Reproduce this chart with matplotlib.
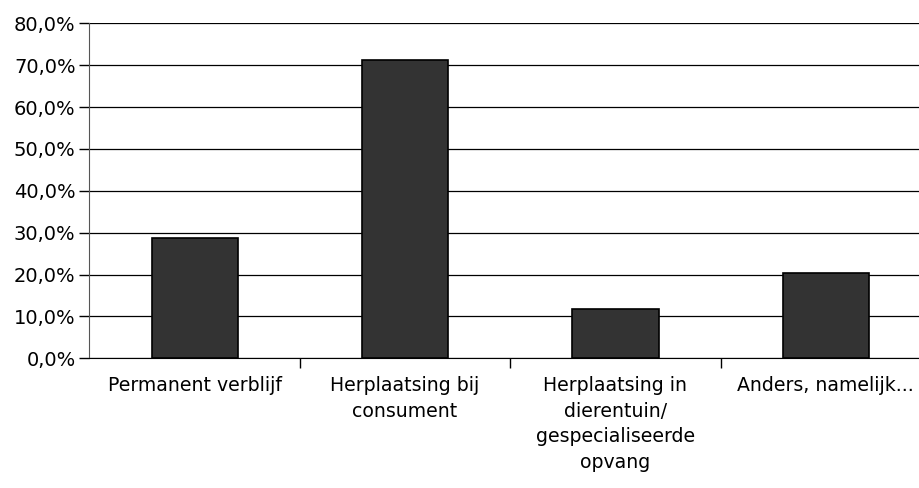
import numpy as np
import matplotlib
matplotlib.use('Agg')
import matplotlib.pyplot as plt
from matplotlib.ticker import FuncFormatter, FixedLocator

# data
categories = ['Permanent verblijf',
              'Herplaatsing bij\nconsument',
              'Herplaatsing in\ndierentuin/\ngespecialiseerde\nopvang',
              'Anders, namelijk...']
values = [28.8, 71.2, 11.8, 20.3]
yticks = [0, 10, 20, 30, 40, 50, 60, 70, 80]

plt.rcParams['font.family'] = 'DejaVu Sans'

fig = plt.figure(figsize=(9.2, 4.88), dpi=100)
ax = fig.add_axes([89.5/920, 129.7/488, (931-89.5)/920, 335/488])

x = np.arange(len(categories))
ax.set_axisbelow(True)
ax.yaxis.grid(True, color='black', lw=0.9)
ax.bar(x, values, width=0.41, color='#333333', edgecolor='black', lw=1.2, zorder=3)

ax.set_xlim(-0.5, len(categories) - 0.5)
ax.set_ylim(0, 80)
ax.set_yticks(yticks)
ax.yaxis.set_major_formatter(FuncFormatter(lambda v, p: ('%.1f%%' % v).replace('.', ',')))

ax.set_xticks(x)
ax.set_xticklabels(categories, fontsize=13.6, linespacing=1.46)
ax.tick_params(axis='x', which='major', length=0, pad=12.5)
ax.xaxis.set_minor_locator(FixedLocator(x[:-1] + 0.5))
ax.tick_params(axis='x', which='minor', length=7, width=1, color='black')
ax.tick_params(axis='y', length=7, width=1, labelsize=14, pad=3, color='black')

for s in ['top', 'right']:
    ax.spines[s].set_visible(False)
ax.spines['left'].set_color('#555555')
ax.spines['bottom'].set_color('black')

fig.savefig('out.png', dpi=100)
